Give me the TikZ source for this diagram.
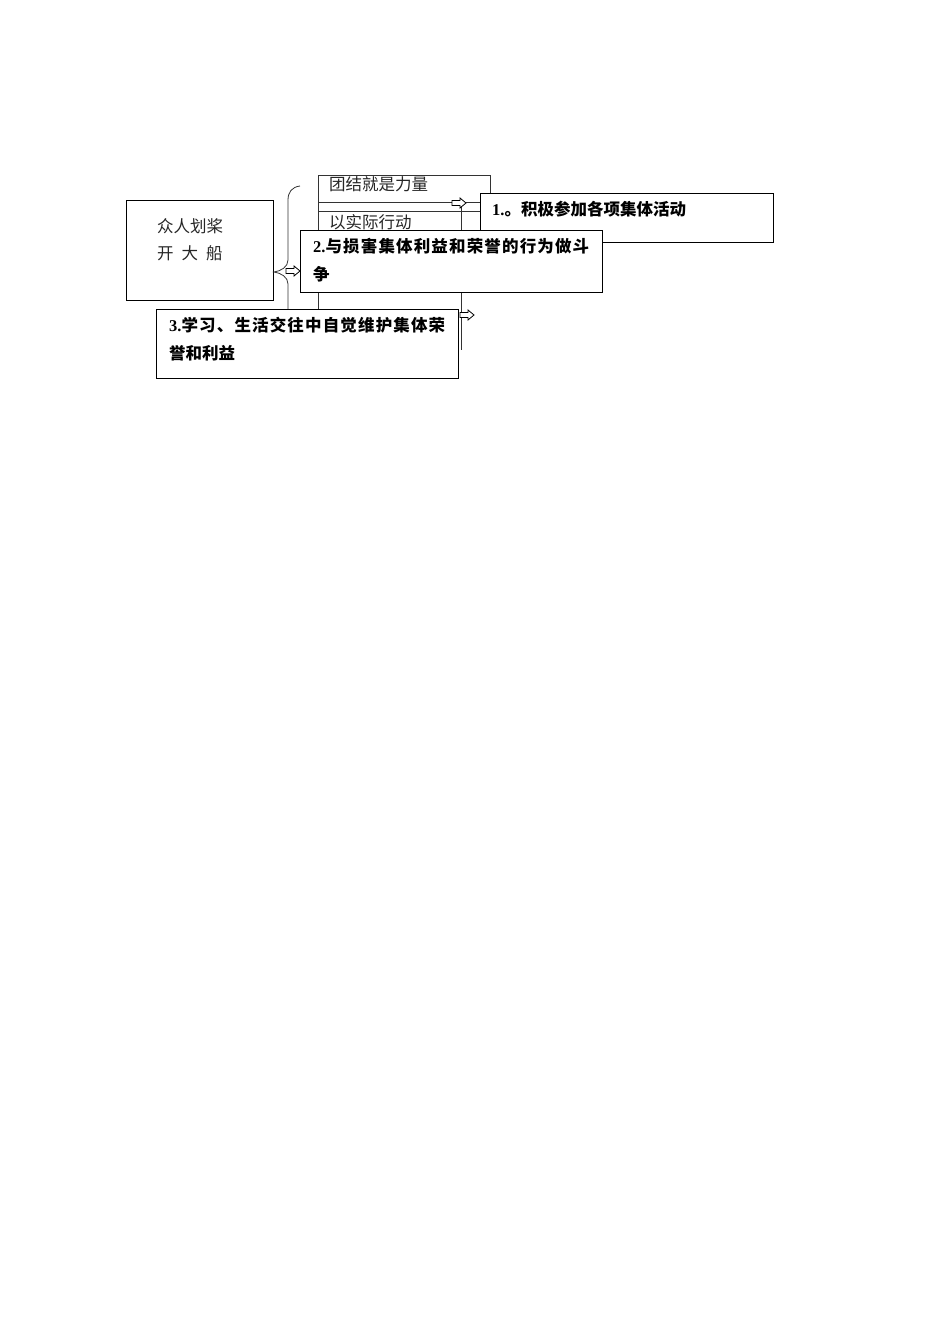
\documentclass[tikz,border=0pt]{standalone}
\usepackage{fontspec}
\setmainfont{Liberation Serif}
\newfontfamily\cjk{Noto Sans CJK SC}
\newfontfamily\cjkwide{Noto Sans CJK SC}[LetterSpace=7]
\begin{document}
\begin{tikzpicture}[x=1pt,y=-1pt,
  thinline/.style={line width=0.8pt,black!80},
  arrowline/.style={line width=0.8pt,black,fill=white,line join=miter},
  front/.style={draw,line width=1.3pt,fill=white,rectangle,inner sep=0pt,anchor=north west},
  plainbox/.style={draw,line width=0.9pt,rectangle,inner sep=0pt,anchor=north west},
  txt/.style={anchor=west,inner sep=0pt,font=\fontsize{16.5}{20}\selectfont\cjk,text=black!85},
  btxt/.style={anchor=west,inner sep=0pt,font=\fontsize{16.5}{20}\selectfont\bfseries}]
\useasboundingbox (0,0) rectangle (950,1344);
% left box
\node[plainbox,minimum width=147pt,minimum height=100pt] (left) at (126,200) {};
\node[txt] (l1) at (157,226) {众人划桨};
\node[txt] (l2) at (157,253) {开\hspace{8pt}大\hspace{8pt}船};
% background lines
\draw[thinline] (318,310) -- (318,175) -- (490,175) -- (490,193);
\draw[thinline] (318,202) -- (490,202);
\draw[thinline] (318,211) -- (480,211);
\draw[thinline] (461,205) -- (461,350);
\node[txt] (t1) at (329,184) {团结就是力量};
\node[txt] (t2) at (329,222) {以实际行动};
% brace
\draw[thinline] (300,186) .. controls (292,187) and (288,192) .. (288,200) -- (288,260)
  .. controls (288,267) and (281,271) .. (274,272)
  .. controls (281,273) and (288,277) .. (288,284) -- (288,340);
% hollow arrows
\coordinate (a0) at (286,271);
\coordinate (a1) at (452,203);
\coordinate (a2) at (460,315);
\foreach \c in {a0,a1,a2}{
  \draw[arrowline] (\c) ++(0,-2.5) -- ++(8,0) -- ++(0,-2.5) -- ++(6,5) -- ++(-6,5) -- ++(0,-2.5) -- ++(-8,0) -- cycle;
}
% box 1
\node[front,minimum width=293pt,minimum height=49pt] (b1) at (480,193) {};
\node[btxt] (b1t) at (492,209) {1.{\cjk 。积极参加各项集体活动}};
% box 2
\node[front,minimum width=302pt,minimum height=62pt] (b2) at (300,230) {};
\node[btxt] (b2t) at (313,246) {2.{\cjkwide 与损害集体利益和荣誉的行为做斗}};
\node[btxt] (b2u) at (313,274) {{\cjk 争}};
% box 3
\node[front,minimum width=302pt,minimum height=69pt] (b3) at (156,309) {};
\node[btxt] (b3t) at (169,325) {3.{\cjkwide 学习、生活交往中自觉维护集体荣}};
\node[btxt] (b3u) at (169,353) {{\cjk 誉和利益}};
\end{tikzpicture}
\end{document}
